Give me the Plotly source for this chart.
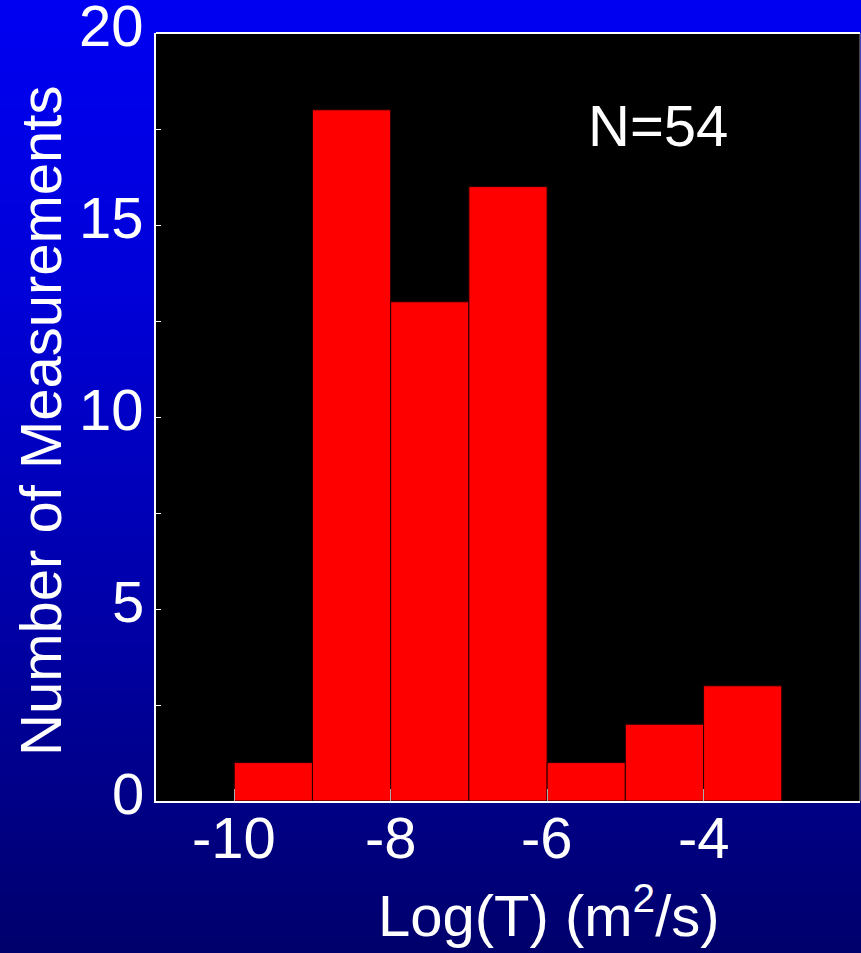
import plotly.graph_objects as go

# Data
bin_centers = [-9.5, -8.5, -7.5, -6.5, -5.5, -4.5, -3.5]
counts = [1, 18, 13, 16, 1, 2, 3]
x_ticks = [-10, -8, -6, -4]
y_ticks = [0, 5, 10, 15, 20]
y_minor = [2.5, 7.5, 12.5, 17.5]
n_label = "N=54"
x_title = "Log(T) (m<sup>2</sup>/s)"
y_title = "Number of Measurements"

W, H = 861, 953
ml, mr, mt, mb = 156, 1, 33, 152
pw = W - ml - mr
ph = H - mt - mb

FONT = "Liberation Sans, Arial, sans-serif"
FS = 58

fig = go.Figure()
fig.add_trace(go.Bar(
    x=bin_centers, y=counts, width=[1.0] * len(counts),
    marker=dict(color="#ff0000", line=dict(color="#200000", width=1)),
    showlegend=False, hoverinfo="skip",
))

# gradient background bands
stops = [(0, 242), (300, 215), (600, 170), (953, 108)]
def blue_at(py):
    for (a, ca), (b, cb) in zip(stops[:-1], stops[1:]):
        if a <= py <= b:
            return ca + (cb - ca) * (py - a) / (b - a)
    return stops[-1][1]

shapes = []
nb = 160
step = H / nb
for i in range(nb):
    top_px = i * step
    bot_px = min(H + 2, (i + 1) * step + 1)
    c = int(round(blue_at((top_px + bot_px) / 2)))
    y0 = 1 - (bot_px - mt) / ph
    y1 = 1 - (top_px - mt) / ph
    shapes.append(dict(type="rect", xref="paper", yref="paper",
                       x0=-ml / pw - 0.01, x1=1 + 0.02,
                       y0=y0, y1=y1, fillcolor=f"rgb(0,0,{c})",
                       line=dict(width=0), layer="below"))
# black plot area
shapes.append(dict(type="rect", xref="paper", yref="paper", x0=0, x1=1, y0=0, y1=1,
                   fillcolor="black", line=dict(width=0), layer="below"))
# right border (gray)
shapes.append(dict(type="line", xref="paper", yref="paper", x0=1, x1=1, y0=0, y1=1,
                   line=dict(color="#888888", width=1), layer="above"))
# top border
shapes.append(dict(type="line", xref="paper", yref="paper", x0=0, x1=1, y0=1, y1=1,
                   line=dict(color="white", width=2), layer="above"))

def py_to_paper(py):
    return 1 - (py - mt) / ph

annotations = []
for v in x_ticks:
    annotations.append(dict(x=v, xref="x", y=py_to_paper(837), yref="paper",
                            text=str(v), showarrow=False, xanchor="center", yanchor="middle",
                            font=dict(size=FS, family=FONT, color="white")))
for v in y_ticks:
    annotations.append(dict(x=(146 - ml) / pw, xref="paper", y=v, yref="y", yshift=8,
                            text=str(v), showarrow=False, xanchor="right", yanchor="middle",
                            font=dict(size=FS, family=FONT, color="white")))
annotations.append(dict(x=(549 - ml) / pw, xref="paper", y=py_to_paper(911), yref="paper",
                        text=x_title, showarrow=False, xanchor="center", yanchor="middle",
                        font=dict(size=FS, family=FONT, color="white")))
annotations.append(dict(x=(40 - ml) / pw, xref="paper", y=py_to_paper(421), yref="paper",
                        text=y_title, textangle=-90, showarrow=False,
                        xanchor="center", yanchor="middle",
                        font=dict(size=FS, family=FONT, color="white")))
annotations.append(dict(x=-4.58, y=17.6, xref="x", yref="y", text=n_label, showarrow=False,
                        font=dict(size=FS, family=FONT, color="white")))

fig.update_layout(
    width=W, height=H,
    margin=dict(l=ml, r=mr, t=mt, b=mb, pad=0),
    paper_bgcolor="#0000c0",
    plot_bgcolor="black",
    shapes=shapes,
    annotations=annotations,
    bargap=0,
    hovermode=False,
    font=dict(family=FONT, color="white", size=FS),
    xaxis=dict(
        range=[-11, -2], tickvals=x_ticks, showticklabels=False,
        ticks="inside", ticklen=12, tickwidth=1, tickcolor="#aaaaaa",
        showgrid=False, zeroline=False,
        showline=True, linecolor="white", linewidth=2, mirror=False,
    ),
    yaxis=dict(
        range=[0, 20], tickvals=y_ticks + y_minor, showticklabels=False,
        ticks="inside", ticklen=5, tickwidth=1, tickcolor="white",
        showgrid=False, zeroline=False,
        showline=True, linecolor="white", linewidth=2, mirror=False,
    ),
)

fig.write_html(
    "out.html",
    config={"displayModeBar": False, "staticPlot": True},
    post_script="document.body.style.margin='0';document.body.style.background='#00006c';document.body.style.overflow='hidden';",
)
